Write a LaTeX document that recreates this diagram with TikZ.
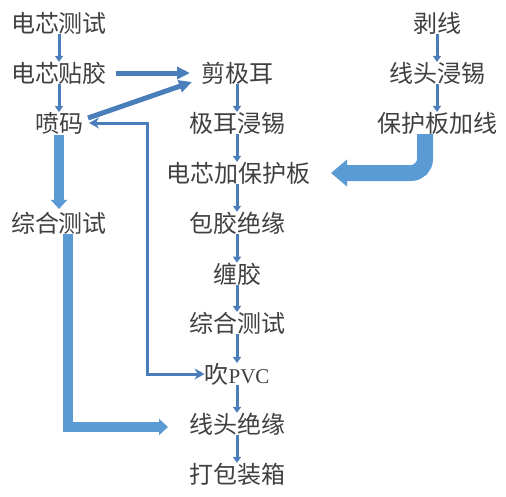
\documentclass[tikz,border=0pt]{standalone}
\usepackage{fontspec}
\setmainfont{Liberation Serif}
\newfontfamily\cjk{Noto Sans CJK SC}
\usetikzlibrary{arrows.meta,positioning}
\definecolor{flowblue}{HTML}{4A7EBB}
\definecolor{bigblue}{HTML}{5B9BD5}
\definecolor{txtgray}{HTML}{404040}
\tikzset{
    proc/.style = {
        font = \cjk\fontsize{24}{24}\selectfont,
        text = txtgray,
        inner sep = 0pt,
        outer sep = 0pt
    },
    flow/.style = {
        draw = flowblue,
        line width = 3pt,
        -{Triangle[length=6pt, width=8pt]}
    },
    midflow/.style = {
        draw = flowblue,
        line width = 5pt,
        -{Triangle[length=13pt, width=12pt]}
    },
    back/.style = {
        draw = flowblue,
        line width = 3pt,
        {Stealth[length=10pt, width=11pt]}-{Stealth[length=10pt, width=11pt]}
    },
    bigflow/.style = {
        draw = bigblue,
        line width = 10pt,
        -{Triangle[length=9pt, width=16pt]}
    }
}
\newcommand{\pvcfont}{\rmfamily\fontsize{21}{21}\selectfont}

\begin{document}
\begin{tikzpicture}[x=1pt, y=-1pt]
    \useasboundingbox (0,0) rectangle (506,496);

    \node[proc] (dxcs)  at (59,23)   {电芯测试};
    \node[proc] (dxtj)  at (59,73)   {电芯贴胶};
    \node[proc] (pm)    at (59,123)  {喷码};
    \node[proc] (zhcsa) at (59,223)  {综合测试};

    \node[proc] (jje)   at (237,73)  {剪极耳};
    \node[proc] (jejx)  at (237,123) {极耳浸锡};
    \node[proc] (bhb)   at (238,173) {电芯加保护板};
    \node[proc] (bjjy)  at (237,223) {包胶绝缘};
    \node[proc] (cj)    at (237,274) {缠胶};
    \node[proc] (zhcsb) at (237,323) {综合测试};
    \node[proc] (pvc)   at (237,374) {吹{\pvcfont PVC}};
    \node[proc] (xtjy)  at (237,424) {线头绝缘};
    \node[proc] (dbzx)  at (237,474) {打包装箱};

    \node[proc] (bx)    at (437,23)  {剥线};
    \node[proc] (xtjx)  at (437,73)  {线头浸锡};
    \node[proc] (bhbjx) at (437,123) {保护板加线};

    \draw[flow] (dxcs) -- (dxtj);
    \draw[flow] (dxtj) -- (pm);
    \draw[flow] (jje) -- (jejx);
    \draw[flow] (jejx) -- (bhb.north -| jejx);
    \draw[flow] (bhb.south -| bjjy) -- (bjjy);
    \draw[flow] (bjjy) -- (cj);
    \draw[flow] (cj) -- (zhcsb);
    \draw[flow] (zhcsb) -- (pvc);
    \draw[flow] (pvc) -- (xtjy);
    \draw[flow] (xtjy) -- (dbzx);
    \draw[flow] (bx) -- (xtjx);
    \draw[flow] (xtjx) -- (bhbjx);

    \draw[midflow, shorten <=9pt, shorten >=11pt] (dxtj) -- (jje);
    \draw[midflow] ([shift={(5pt,5pt)}]pm.east) -- ([shift={(-9pt,-9pt)}]jje.west);

    \draw[bigflow, shorten <=1pt, shorten >=3pt] (pm) -- (zhcsa);
    \draw[bigflow, shorten >=21pt] ([xshift=9pt]zhcsa.south) |- ([yshift=-3pt]xtjy.west);

    \coordinate (rail) at (147,250);
    \draw[back, shorten <=6pt] (pm.east) -- (pm.east -| rail) -- (pvc.west -| rail) -- (pvc.west);

    \draw[draw=bigblue, line width=16pt, rounded corners=14pt, shorten >=21pt,
          -{Triangle[length=16pt, width=26pt]}]
        ([xshift=-12pt]bhbjx.south) |- (bhb.east);
\end{tikzpicture}
\end{document}
